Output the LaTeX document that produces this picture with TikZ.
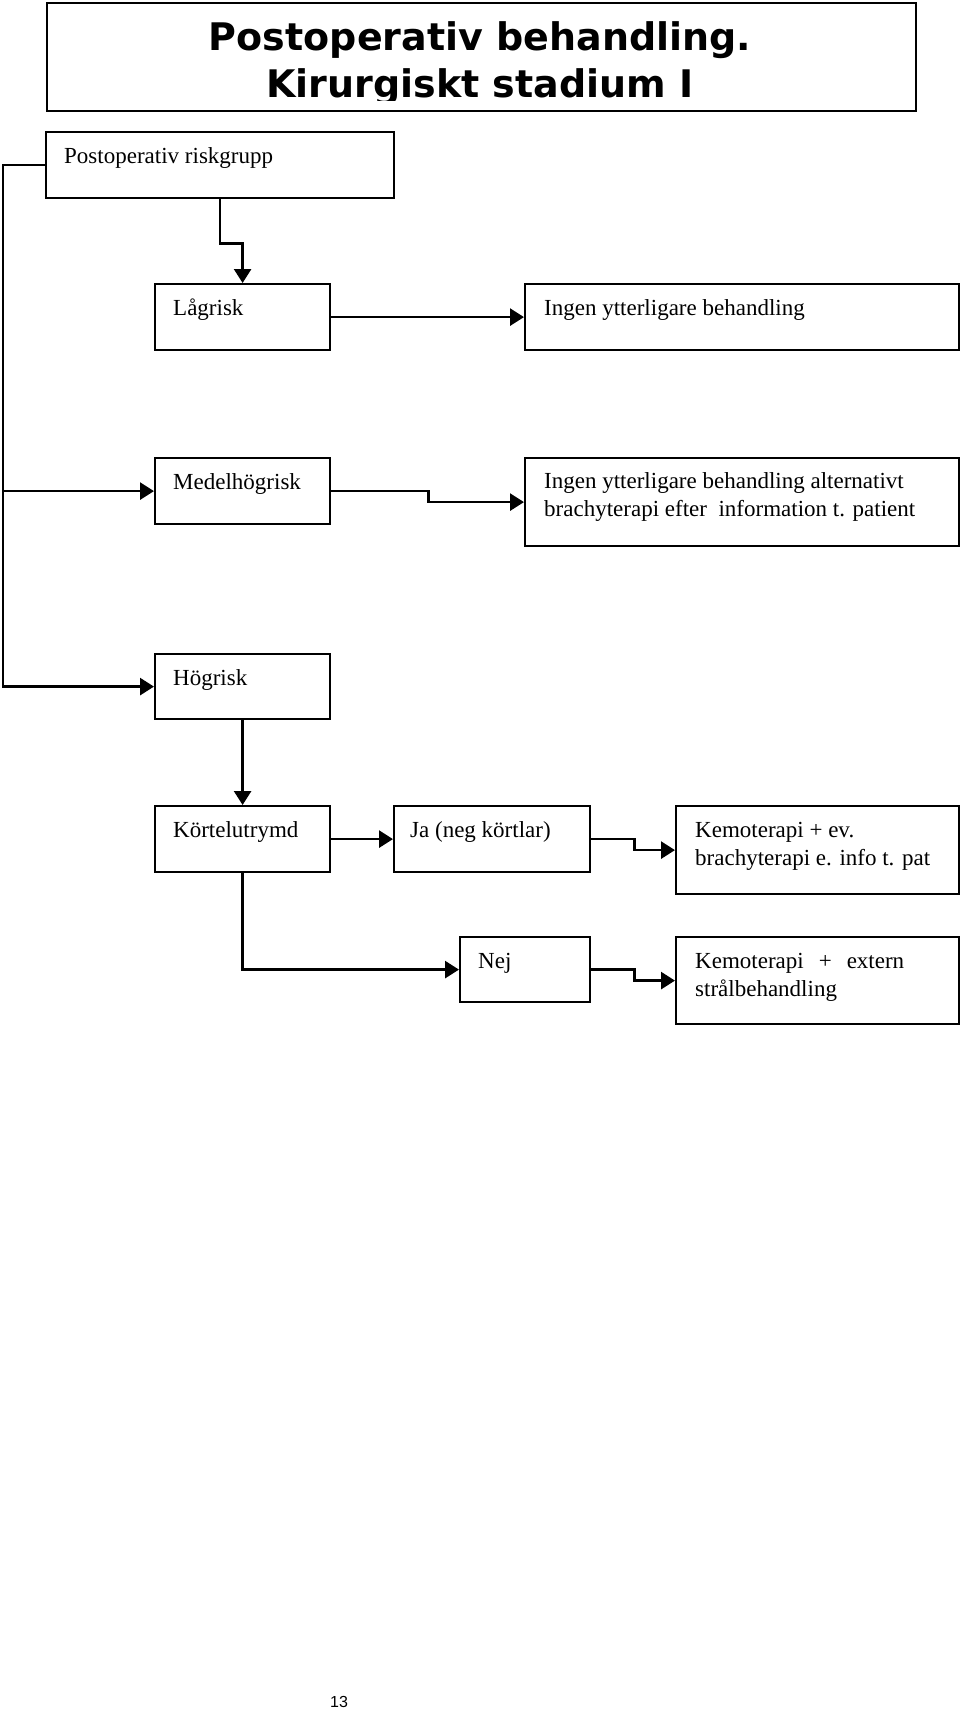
\documentclass[tikz,border=0pt]{standalone}
\usepackage{fontspec}
\setmainfont{Liberation Serif}
\newfontfamily\titlefont{DejaVu Sans}
\newfontfamily\pagefont{Liberation Sans}
\usetikzlibrary{arrows.meta,calc}
\begin{document}
\begin{tikzpicture}[x=1pt,y=-1pt,
  box/.style={draw,line width=2.2pt,rectangle,anchor=north west,inner sep=0pt},
  txt/.style={anchor=base west,inner sep=0pt,font=\fontsize{23}{28}\selectfont,align=left},
  ttl/.style={anchor=base,inner sep=0pt,font=\titlefont\bfseries\fontsize{38}{45}\selectfont},
  conn/.style={line width=2.7pt,-{Triangle[length=14pt,width=17pt]}}]
\useasboundingbox (0,0) rectangle (960,1711);
\fill[white] (0,0) rectangle (960,1711);

% title
\node[box,minimum width=869pt,minimum height=108pt] (title) at (46,2) {};
\begin{scope}
\clip (47,3) rectangle (914,100);
\node[ttl] (t1) at (480,50) {Postoperativ behandling.};
\node[ttl] (t2) at (480,97) {Kirurgiskt stadium I};
\end{scope}

% boxes
\node[box,minimum width=348pt,minimum height=66pt] (risk) at (45,131) {};
\node[box,minimum width=175pt,minimum height=66pt] (lag) at (154,283) {};
\node[box,minimum width=434pt,minimum height=66pt] (ingen1) at (524,283) {};
\node[box,minimum width=175pt,minimum height=66pt] (medel) at (154,457) {};
\node[box,minimum width=434pt,minimum height=88pt] (ingen2) at (524,457) {};
\node[box,minimum width=175pt,minimum height=65pt] (hog) at (154,653) {};
\node[box,minimum width=175pt,minimum height=66pt] (kortel) at (154,805) {};
\node[box,minimum width=196pt,minimum height=66pt] (ja) at (393,805) {};
\node[box,minimum width=283pt,minimum height=88pt] (kemo1) at (675,805) {};
\node[box,minimum width=130pt,minimum height=65pt] (nej) at (459,936) {};
\node[box,minimum width=283pt,minimum height=87pt] (kemo2) at (675,936) {};

% texts (multi-line nodes: base = last line)
\node[txt] (risktxt) at (64,163) {Postoperativ riskgrupp};
\node[txt] (lagtxt) at (173,315) {Lågrisk};
\node[txt] (ingen1txt) at (544,315) {Ingen ytterligare behandling};
\node[txt] (medeltxt) at (173,489) {Medelhögrisk};
\node[txt] (ingen2txt) at (544,516) {Ingen ytterligare behandling alternativt\\brachyterapi efter\ \ information t. patient};
\node[txt] (hogtxt) at (173,685) {Högrisk};
\node[txt] (korteltxt) at (173,837) {Körtelutrymd};
\node[txt] (jatxt) at (410,837) {Ja (neg körtlar)};
\node[txt] (kemo1txt) at (695,865) {Kemoterapi + ev.\\brachyterapi e. info t. pat};
\node[txt] (nejtxt) at (478,968) {Nej};
\node[txt] (kemo2txt) at (695,996) {Kemoterapi\hspace{15pt}+\hspace{15pt}extern\\strålbehandling};

% connectors
\coordinate (lx) at (3,0);
\draw[conn] (risk.west) -| (lx |- hog.west) -- (hog.west);
\draw[conn] (lx |- medel.west) -- (medel.west);
\draw[conn] (risk.south) -- ++(0,44) -| (lag.north);
\draw[conn] (lag.east) -- (ingen1.west);
\draw[conn] (medel.east) -- ++(97,0) |- (ingen2.west);
\draw[conn] (hog.south) -- (kortel.north);
\draw[conn] (kortel.east) -- (ja.west);
\draw[conn] (ja.east) -- ++(43,0) |- (kemo1.west);
\draw[conn] (kortel.south) |- (nej.west);
\draw[conn] (nej.east) -- ++(43,0) |- (kemo2.west);

% page number
\node[anchor=base west,inner sep=0pt,font=\pagefont\fontsize{16}{19}\selectfont] (page) at (330,1707) {13};
\end{tikzpicture}
\end{document}
